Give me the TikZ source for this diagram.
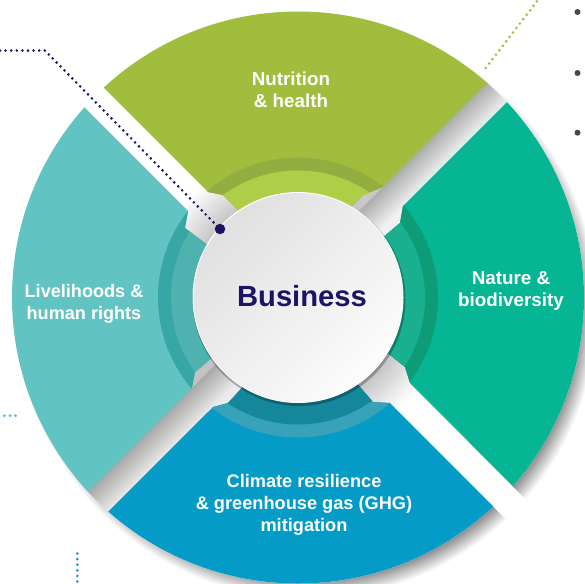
\documentclass[tikz,border=0pt]{standalone}
\usepackage{fontspec}
\setmainfont{Liberation Sans}
\definecolor{navy}{HTML}{1B1464}
\definecolor{gA}{HTML}{A0BD3E}\definecolor{gB}{HTML}{93AE40}\definecolor{gC}{HTML}{AECE48}
\definecolor{tA}{HTML}{05B594}\definecolor{tB}{HTML}{0E9B78}\definecolor{tC}{HTML}{18B08F}
\definecolor{lA}{HTML}{62C4C2}\definecolor{lB}{HTML}{36A7A4}\definecolor{lC}{HTML}{4FB2AF}
\definecolor{bA}{HTML}{049BC6}\definecolor{bB}{HTML}{38A3B8}\definecolor{bC}{HTML}{14889A}
\definecolor{dotgreen}{HTML}{9CBF3C}\definecolor{dotteal}{HTML}{3FC0C8}\definecolor{dotblue}{HTML}{0E9AC4}
\tikzset{
  label/.style={text=white,font=\fontsize{#1}{22}\selectfont\bfseries,align=center,inner sep=0pt},
  dotted line/.style={line width=2.9pt,line cap=round,dash pattern=on 0pt off 5.6pt},
  bullet/.style={circle,fill=#1,inner sep=0pt,minimum size=6pt},
  smalldot/.style={circle,fill=#1,inner sep=0pt,minimum size=3pt}
}
\newcommand{\quadrant}[5]{%
  \begin{scope}
    \clip #1 -- cycle;
    \fill[#2] (298,297.5) circle[radius=286pt];
    \fill[#3] (298,297.5) circle[radius=140pt];
    \fill[#4] (298,297.5) circle[radius=127pt];
  \end{scope}}
\begin{document}
\begin{tikzpicture}[x=1pt,y=-1pt]
\useasboundingbox (0,0) rectangle (585,583);
\clip (0,0) rectangle (585,583);
% outer drop shadow
\foreach \i in {0,...,18}{
  \pgfmathsetmacro{\sh}{\i*2.4}
  \fill[black!\sh!white] (307,308.5) circle[radius={(291-\i)*1pt}];
}
\fill[white] (298,297.5) circle[radius=286pt];
% lower-right white channel
\fill[white] (318,292) -- (560,534) -- (560,573.5) -- (303,316.5) -- cycle;
% soft shadow round the hub
\foreach \i in {0,...,20}{
  \pgfmathsetmacro{\sh}{\i*1.05}
  \fill[black!\sh!white] (299,299) circle[radius={(150-2*\i)*1pt}];
}
% grey gradient channels
\begin{scope}
  \clip (298,297.5) circle[radius=286pt];
  \fill[transform canvas={rotate around={-45:(400,190)}},black!22] (366,-110) rectangle (386.5,340);
  \fill[transform canvas={rotate around={-45:(400,190)}},black!6] (413.5,-110) rectangle (440,340);
  \shade[transform canvas={rotate around={-45:(400,190)}},left color=black!32,right color=black!6]
    (386,-110) rectangle (414,340);
  \fill[transform canvas={rotate around={-45:(200,400)}},black!24] (166,260) rectangle (186.5,700);
  \fill[transform canvas={rotate around={-45:(200,400)}},black!8] (213.5,260) rectangle (240,700);
  \shade[transform canvas={rotate around={-45:(200,400)}},left color=black!34,right color=black!8]
    (186,260) rectangle (214,700);
\end{scope}
% four sectors
\quadrant{(0,-16) -- (208,192) -- (223,195) -- (293,265) -- (363,195) -- (383,187) -- (587,-16)}{gA}{gB}{gC}{}
\quadrant{(640,-31) -- (403,206) -- (400,223) -- (315,295) -- (405,367) -- (410,383) -- (640,614)}{tA}{tB}{tC}{}
\quadrant{(-40,-17.5) -- (188,211) -- (185,228) -- (280,300) -- (195,372) -- (192,388) -- (-40,620.5)}{lA}{lB}{lC}{}
\quadrant{(-20.5,640) -- (213,407) -- (228,403) -- (240,390) -- (303,320) -- (360,387) -- (373,402) -- (390,403) -- (626.5,640)}{bA}{bB}{bC}{}
% hub
\fill[black,opacity=.28] (299,299.5) circle[radius=106.5pt];
\fill[white] (298,297.5) circle[radius=105.5pt];
\shade[shading=axis,top color=black!12,bottom color=black!1,shading angle=45] (298.3,297.8) circle[radius=104.7pt];
\node[inner sep=0pt,text=navy,font=\fontsize{29.2}{32}\selectfont\bfseries] (business) at (302,296) {Business};
% labels
\node[label=18.8] (nutrition) at (291,89.5) {Nutrition\\\& health};
\node[label=18.8] (nature) at (511,290.5) {Nature \&\\biodiversity};
\node[label=18.1] (livelihoods) at (84,303.5) {Livelihoods \&\\human rights};
\node[label=18.2] (climate) at (304,504.5) {Climate resilience\\\& greenhouse gas (GHG)\\mitigation};
% dotted leaders
\node[circle,fill=navy,inner sep=0pt,minimum size=10.5pt] (hubdot) at (220,229) {};
\coordinate (navyA) at (0,50.6);
\coordinate (navyB) at (45,50.6);
\draw[dotted line,navy] (navyA) -- (navyB) -- (hubdot);
\coordinate (greenA) at (485.7,68);
\coordinate (greenB) at (538,0);
\draw[dotted line,dotgreen] (greenA) -- (greenB);
\coordinate (blueA) at (77.3,553.5);
\coordinate (blueB) at (77.3,583);
\draw[dotted line,dotblue] (blueA) -- (blueB);
\node[smalldot=dotteal] (tealA) at (4.3,415.7) {};
\node[smalldot=dotteal] (tealB) at (10,415.7) {};
\node[smalldot=dotteal] (tealC) at (15.7,415.7) {};
% bullets
\node[bullet=black!72] (bulA) at (577.5,12) {};
\node[bullet=black!72] (bulB) at (577.5,73) {};
\node[bullet=black!72] (bulC) at (577.5,132.7) {};
\end{tikzpicture}
\end{document}
